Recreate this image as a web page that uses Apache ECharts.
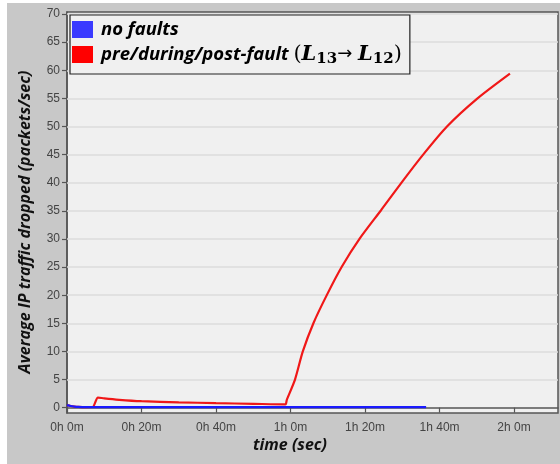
<!DOCTYPE html>
<html>
<head>
<meta charset="utf-8">
<script src="https://cdn.jsdelivr.net/npm/echarts@6/dist/echarts.min.js"></script>
<style>html,body{margin:0;padding:0;background:#fff}#c{width:560px;height:464px}</style>
</head>
<body>
<div id="c"></div>
<script>
// time in minutes, value in packets/sec
const noFaultTime  = [0, 1, 2, 3, 5, 96.4];
const noFaultValue = [0.45, 0.3, 0.2, 0.14, 0.1, 0.1];

const faultTime  = [0, 1, 2, 3, 5, 6.9, 8.3, 10, 14, 20, 30, 40, 50, 58.6, 59.0, 61.2, 63.3, 66.2, 69.8, 73.8, 78.6, 84.4, 90, 95.6, 102.0, 110.2, 118.9];
const faultValue = [0.45, 0.3, 0.2, 0.14, 0.1, 0.12, 1.8, 1.65, 1.4, 1.15, 0.95, 0.8, 0.68, 0.58, 1.4, 5.0, 10.0, 15.1, 20.1, 25.1, 30.1, 35.2, 40.2, 45.0, 50.0, 55.0, 59.4];

const yTicks = [0, 5, 10, 15, 20, 25, 30, 35, 40, 45, 50, 55, 60, 65, 70];
const xTicks = [0, 20, 40, 60, 80, 100, 120];

const seriesNames = ['no faults', 'pre/during/post-fault (L13\u2192 L12)'];

const chart = echarts.init(document.getElementById('c'), null, {renderer: 'canvas'});

function fmtTime(m) {
  const h = Math.floor(m / 60);
  const mm = Math.round(m - h * 60);
  return h + 'h ' + mm + 'm';
}

const gridLineData = yTicks.filter(v => v > 0).map(v => ({yAxis: v}));

chart.setOption({
  animation: false,
  backgroundColor: '#ffffff',
  graphic: [
    {type: 'rect', z: -10, silent: true, shape: {x: 7, y: 3, width: 553, height: 461}, style: {fill: '#c8c8c8'}},
    {type: 'text', z: 10, x: 290, y: 445, style: {text: 'time (sec)', fontFamily: 'Open Sans', fontStyle: 'italic', fontWeight: 'bold', fontSize: 16, fill: '#111', align: 'center', verticalAlign: 'middle'}},
    {type: 'text', z: 10, x: 25, y: 222, rotation: Math.PI / 2, style: {text: 'Average IP traffic dropped (packets/sec)', fontFamily: 'Open Sans', fontStyle: 'italic', fontWeight: 'bold', fontSize: 16, fill: '#111', align: 'center', verticalAlign: 'middle'}}
  ],
  grid: {
    left: 67, top: 12, right: 2, bottom: 51,
    show: true, backgroundColor: '#f0f0f0', borderColor: '#555', borderWidth: 1.5
  },
  legend: {
    left: 70, top: 15,
    orient: 'vertical',
    itemWidth: 21, itemHeight: 17, itemGap: 5,
    padding: [5, 8, 7, 2],
    backgroundColor: '#f0f0f0',
    borderColor: '#222', borderWidth: 1.2,
    data: seriesNames.map((n, i) => ({name: n, icon: 'rect', itemStyle: {color: i === 0 ? '#3a3aff' : '#ff0000'}})),
    formatter: function (name) {
      if (name === seriesNames[0]) return '{t|no faults}';
      return '{t|pre/during/post-fault }{m|(}{l|L}{s|13}{a|\u2192 }{l|L}{s|12}{m|)}';
    },
    textStyle: {
      padding: [0, 0, 0, 3],
      fontFamily: 'Open Sans', fontStyle: 'italic', fontWeight: 'bold', fontSize: 18.5, color: '#000',
      rich: {
        t: {fontFamily: 'Open Sans', fontStyle: 'italic', fontWeight: 'bold', fontSize: 18.5, color: '#000', height: 20},
        m: {fontFamily: 'DejaVu Serif', fontStyle: 'normal', fontWeight: 'normal', fontSize: 21, color: '#000', height: 20},
        l: {fontFamily: 'DejaVu Serif', fontStyle: 'italic', fontWeight: 'bold', fontSize: 21, color: '#000', height: 20},
        a: {fontFamily: 'DejaVu Sans', fontStyle: 'normal', fontWeight: 'normal', fontSize: 18, color: '#000', height: 20},
        s: {fontFamily: 'DejaVu Serif', fontStyle: 'normal', fontWeight: 'bold', fontSize: 15, color: '#000', height: 20, padding: [10, 0, 0, 0]}
      }
    }
  },
  xAxis: {
    type: 'value', min: 0, max: 131.8, interval: 20,
    splitLine: {show: false},
    axisLine: {show: true, lineStyle: {color: '#555', width: 1.5}},
    axisTick: {show: true, length: 5, lineStyle: {color: '#555', width: 1.2}, customValues: xTicks},
    axisLabel: {customValues: xTicks, formatter: fmtTime, color: '#444', fontFamily: 'Liberation Sans', fontSize: 12, margin: 9}
  },
  yAxis: {
    type: 'value', min: -0.95, max: 70.36,
    splitLine: {show: false},
    axisLine: {show: true, lineStyle: {color: '#555', width: 1.5}},
    axisTick: {show: true, length: 5, lineStyle: {color: '#555', width: 1.2}, customValues: yTicks},
    axisLabel: {customValues: yTicks, color: '#444', fontFamily: 'Liberation Sans', fontSize: 12, margin: 7}
  },
  series: [
    {
      name: seriesNames[1], type: 'line', z: 2,
      data: faultTime.map((t, i) => [t, faultValue[i]]),
      showSymbol: false, symbol: 'none',
      smooth: 0.25,
      lineStyle: {color: '#f01818', width: 2.2},
      itemStyle: {color: '#ff0000'},
      markLine: {
        silent: true, symbol: 'none', label: {show: false},
        lineStyle: {color: '#dcdcdc', width: 1.5, type: 'solid'},
        data: gridLineData, z: 1
      }
    },
    {
      name: seriesNames[0], type: 'line', z: 3,
      data: noFaultTime.map((t, i) => [t, noFaultValue[i]]),
      showSymbol: false, symbol: 'none',
      smooth: 0.3,
      lineStyle: {color: '#1a1aff', width: 2.2},
      itemStyle: {color: '#3a3aff'}
    }
  ]
});
</script>
</body>
</html>
